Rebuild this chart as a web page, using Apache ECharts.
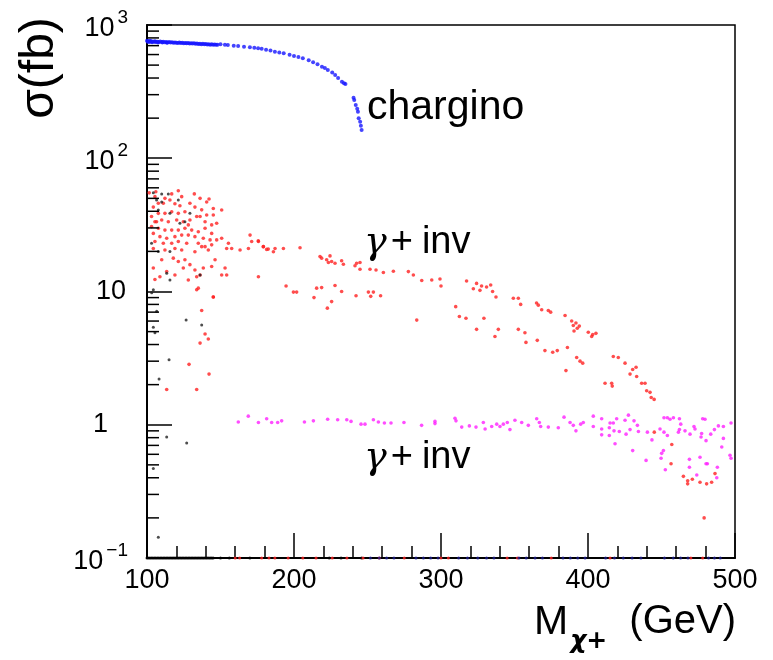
<!DOCTYPE html>
<html>
<head>
<meta charset="utf-8">
<script src="https://cdn.jsdelivr.net/npm/echarts@6/dist/echarts.min.js"></script>
<style>
html,body{margin:0;padding:0;background:#fff;}
#chart{width:773px;height:660px;}
</style>
</head>
<body>
<div id="chart"></div>
<script>
// ---- data (GeV, fb) ----
const chargino = [[100,762],[100.5,748],[101,758],[101.5,745],[102,755],[102.5,760],[103,750],[103.5,742],[104,752],[105,748],[105.5,756],[106,745],[107,750],[107.5,740],[108,746],[109,752],[110,744],[110.5,738],[111,748],[112,742],[113,746],[113.5,736],[114,740],[115,744],[116,738],[117,742],[118,735],[119,740],[120,736],[121,732],[122,738],[123,733],[124,736],[125,730],[126,734],[127,728],[128,732],[129,726],[130,730],[131,725],[132,728],[133,722],[134,726],[135,720],[136,724],[137,718],[138,722],[139,716],[140,720],[141,714],[142,718],[143,712],[144,716],[145,712],[146,714],[147,710],[148,712],[150,716],[153,710],[155,708],[159,700],[162,695],[166,688],[170,680],[173,674],[175.6,669],[178,662],[181,653],[184,645],[187,631],[190,622],[193,613],[197,598],[200,585],[203,575],[206,562],[210,545],[213,525],[216,507],[219,487],[221,475],[223,460],[226,440],[228,422],[230,400],[232.6,375],[234,365],[235,360],[240.5,285],[241,274],[242,251],[243,235],[243.5,223],[244,200],[245,188],[245.5,175],[246,163]];

const gammaInvRed = [[121.3,57],[132.2,54],[142.2,49.5],[136.1,50],[116.8,54],[123.6,51.5],[112.2,50],[105.4,51.5],[107.7,46],[104.3,43],[111.1,46],[115.6,48.6],[119,45.5],[122.4,44],[129.2,46],[132.6,43],[137.2,41],[140.6,37.5],[145.1,37.5],[125.8,39.7],[121.3,38.6],[116.8,39.7],[112.2,38.6],[107.7,38.6],[103.1,36.5],[105.4,33.4],[110,34.4],[114.5,33.4],[120.2,34.4],[124.7,33.4],[129.2,34.4],[133.8,36.5],[139.5,33.4],[144,31.6],[147.4,32.5],[103.1,30.7],[107.7,29.8],[112.2,28.9],[116.8,28.9],[121.3,28.9],[125.8,29.8],[130.4,28.9],[134.9,28.1],[139.5,29.8],[144,27.3],[104.3,27.3],[108.8,25.8],[113.4,25.1],[119,25.8],[123.6,26.5],[128.1,26.5],[132.6,25.8],[138.3,25.1],[142.9,24.4],[147.4,24.4],[150.8,25.1],[105.4,23.7],[111.1,23],[116.8,23],[121.3,23.7],[127,23],[134.9,23],[139.5,21.7],[144,22.4],[155.4,23],[154.2,21],[157.6,21],[163.3,20.5],[169,21],[170.1,26.5],[175.8,23.7],[171.2,23.7],[179.2,21.7],[104.3,21],[112.2,20.5],[119,21],[123.6,20.5],[132.6,19.9],[137.2,21.7],[141.7,20.5],[110,17.3],[117.9,17.8],[121.3,16.8],[125.8,17.3],[129.2,15.9],[124.7,15],[132.6,14.5],[138.3,15],[144,15.4],[146.3,17.3],[153.1,15],[154.2,13.3],[150.8,13.3],[104.3,15],[113.4,14.1],[108.8,12.9],[105.4,12.3],[119,13.3],[128.1,12.2],[133.8,12.9],[136.1,13.3],[175.8,12.9],[134.9,10.6],[145.1,9.1],[106.5,33.4],[128.1,31.6],[150.8,40.9],[145.1,42],[140.6,47],[136.1,36.5],[101.5,55],[106,56],
[133.8,10.3],[145.1,9.1],[137.2,7.2],[139.5,4.8],[141.7,4.4],[136.1,4.1],[128.6,2.84],[142.2,2.4],[113.4,1.84],[133.8,1.84],
[181.4,20.7],[187.1,21],[192.8,21],[204.1,21.3],[175.7,24],[179.1,21.7],[182.5,20.8],[186,19.9],[217.7,18.3],[218.8,17.8],[222.2,17.3],[224.5,18.5],[223.4,16.5],[225.6,16.8],[227.9,16.3],[232.4,17],[233.6,16],[241.5,15.6],[242.6,16.3],[244.9,16.5],[244.9,14.7],[251.7,14.7],[255.8,14.5],[260.8,13.9],[267.6,14.2],[277.8,14.1],[281.2,13.3],[286.9,12.1],[293.7,12.2],[300,11],
[194.6,11],[199.6,9.9],[201.8,9.9],[215.4,10.6],[218.8,10.7],[213.6,9],[227.9,11.1],[232.4,10],[225.6,8.4],[222.7,7.5],[242.2,9.3],[250.6,9.9],[254,9.9],[252.2,9.2],[258.9,9.3],[283.5,6.1],
[299.3,12.4],[317.4,12],[324.2,11.5],[327.6,11],[331,10.8],[322,10.5],[326.5,10.2],[333.8,11.2],[335.1,10],[337.4,9.1],[349.2,8.9],[352.6,8.9],[354.2,8],[365,8.2],[366.2,7.9],[368.5,7.3],[373,7.2],[374.6,7],[384.4,6.6],[388.9,6],[391.8,5.8],[390,5.55],[394.1,5.5],[392.7,5.3],[390.5,5.05],[400.2,4.95],[403.2,4.75],[405.4,4.85],[402.5,4.6],[417.2,3.25],[420.6,3.2],[425.2,2.9],[432.7,2.7],[430.4,2.6],[428.6,2.4],[433.1,2.3],[436.5,2.05],[438.8,2.05],[439.9,1.8],[442.2,1.75],[443,1.6],[445,1.55],
[310,7.7],[312.5,6.5],[317,6.3],[329.2,6.3],[324.2,5.2],[336.7,4.6],[339,5.2],[352.6,5.2],[357.1,4.9],[357.8,4.15],[365.5,4.3],[370.7,3.6],[376,3.5],[379.1,3.6],[386,3.8],[392.3,3.2],[394.6,3],[396.4,2.9],[385,2.55],[411.6,2.05],[416.1,2.05],[416.5,1.95],
[445.1,0.88],[457,0.71],[456.5,0.51],[464.9,0.41],[467.8,0.38],[467.8,0.36],[471,0.39],[476.2,0.37],[480.7,0.36],[484.1,0.37],[479,0.2],[486.4,0.43]];

const gammaInvMagenta = [[162.1,1.05],[168.9,1.16],[175.8,1.04],[181.4,1.11],[184.8,1.04],[188.9,1.04],[191.6,1.07],[207.1,1.05],[213.2,1.07],[222.9,1.1],[229.7,1.09],[235.9,1.09],[238.8,1.06],[245.6,1.01],[248.3,1.01],[254,1.09],[257.4,1.05],[261.5,1.03],[266,1.03],
[274.8,1.04],[286.8,0.99],[295.9,1.06],[295.9,1.02],[309.5,1.12],[310.2,1.07],[314.1,0.96],[319.3,0.98],[323.8,0.96],[328.8,1.04],[330,0.93],[334.5,0.97],[337.9,1.01],[340.1,0.97],[342.4,1.01],[345.1,1.04],[346.9,0.92],[350.3,1.08],[354.9,1.04],[359.4,0.99],[365.1,1.11],[366.9,1.04],[367.8,0.97],[373,0.96],[379.8,0.95],
[383.7,1.14],[387.8,1.04],[390,0.99],[391.8,0.9],[395,1.01],[396.8,1.04],[403.6,1.16],[403.6,0.97],[409.3,1.11],[409.3,0.93],[409.3,0.84],[414.5,0.95],[415,1.03],[417.2,1.03],[417.7,0.9],[419.5,1.11],[421.3,0.89],[414.5,0.83],[418.4,0.72],[425.2,1.08],[427.5,1.18],[425.9,0.85],[428.6,0.92],[431.3,1.07],[433.6,0.99],[434.3,0.89],[430.4,0.64],[439.5,0.54],[440.4,0.88],[443.5,0.77],[449,0.93],[451.7,0.88],[454,0.83],[451.7,1.13],[454,1.13],[458.1,1.13],[455.8,1.1],[462.2,1.11],[463.1,1.01],[462.2,0.92],[461.5,0.88],[466,0.9],[469.4,0.85],[472.1,0.97],[472.8,0.93],[478,1.11],[479.6,1.1],[477.3,0.86],[476.9,0.81],[480.3,0.76],[483.5,0.85],[486,0.92],[488.7,0.98],[492.1,0.97],[492.1,0.79],[491,0.68],[497.3,1.03],[496.6,0.59],[497.3,0.56],[451.3,0.64],[450.1,0.61],[449.7,0.56],[452.6,0.46],[469,0.55],[469,0.48],[476.2,0.57],[480.3,0.51],[481.2,0.51],[488,0.48],[474,0.42],[487.6,0.4]];

const otherBlack = [[104.3,55],[110,54],[114.5,54],[106.5,48.6],[110,47],[121.3,48.6],[107.7,40.9],[115.6,38.6],[129.2,38.6],[122.4,32.5],[125.8,33.4],[103.1,23],[107.7,20],[115.6,20],[113.4,13.7],[115.6,12.2],[136.1,13.3],[104.3,10.3],
[103.2,9.8],[106.6,7.1],[126.6,6.1],[137.2,5.6],[104.3,5.4],[105.4,4.9],[115,3.07],[108.2,2.2],[113.4,0.81],[127,0.73],[104.3,0.47],[107.7,0.143]];

// points on the lower edge of the frame (sigma <= 0.1 fb)
const edgeBlackX = [100,101,102,103,104,105,106,107,108,109,110,111,112,113,114,115,116,117,118,119,120,121,122,123,124,125,126,127,128,129,130,131,132,133,134,135,136,137,138,139,140,141,142,143,144,145,150,156,170,224,232,246];
const edgeRedX = [160,163,178,183,187,196,206,215,226,236,247,258,275,300,305,345,352,375,415,470,478];
const edgeBlueX = [252,258,263,268,283,288,293,298,312,318,325,331,336,353,358,364,369,383,388,393,398,412,418,424,430,436,452,458,463,468,482,486,490];
const edgeValue = 0.1;

// axis structure
const yMinorTicks = [];
for (let d = 0.1; d < 1000; d *= 10) {
  for (let k = 2; k <= 9; k++) yMinorTicks.push(+(k * d).toPrecision(3));
}

const FONT = 'Liberation Sans, Arial, Helvetica, sans-serif';

const chart = echarts.init(document.getElementById('chart'), null, {renderer: 'canvas'});

function yLabel(v) {
  const e = Math.round(Math.log10(v));
  if (e === 0) return '{one|1}';
  if (e === 1) return '{ten|10}';
  return '{b|10}{s|' + (e < 0 ? '\u2212' + (-e) : e) + '}';
}

const dot = (color, size) => ({symbol: 'circle', symbolSize: size, itemStyle: {color: color}});

const gammaRich = {
  g: {font: 'italic 38px DejaVu Serif, serif', fill: '#000', padding: [0, 2, 0, 0]},
  p: {font: '38px ' + FONT, fill: '#000', padding: [0, 9, 0, 2]},
  t: {font: '38px ' + FONT, fill: '#000'}
};

chart.setOption({
  animation: false,
  backgroundColor: '#fff',
  grid: {left: 147, right: 38, top: 25, bottom: 102, show: true, borderColor: '#000', borderWidth: 1.5, backgroundColor: 'transparent'},
  xAxis: {
    type: 'value', min: 100, max: 500, interval: 100,
    axisLine: {show: true, onZero: false, lineStyle: {color: '#000', width: 2}},
    axisTick: {show: true, inside: true, length: 25, lineStyle: {color: '#000', width: 1.5}},
    minorTick: {show: true, splitNumber: 5, length: 12, lineStyle: {color: '#000', width: 1.5}},
    splitLine: {show: false},
    axisLabel: {color: '#000', fontSize: 27, fontFamily: FONT, margin: 9, showMinLabel: true, showMaxLabel: true}
  },
  yAxis: {
    type: 'log', logBase: 10, min: 0.1, max: 1000,
    axisLine: {show: true, lineStyle: {color: '#000', width: 2}},
    axisTick: {show: true, inside: true, length: 25, lineStyle: {color: '#000', width: 1.5}},
    minorTick: {show: false},
    splitLine: {show: false},
    axisLabel: {
      color: '#000', margin: 19, showMinLabel: true, showMaxLabel: true,
      formatter: yLabel,
      rich: {
        b: {fontSize: 27, fontFamily: FONT, color: '#000', lineHeight: 34, verticalAlign: 'bottom'},
        s: {fontSize: 19, fontFamily: FONT, color: '#000', lineHeight: 19, verticalAlign: 'top', padding: [0, 0, 0, 3]},
        one: {fontSize: 27, fontFamily: FONT, color: '#000', padding: [0, 20, 0, 0]},
        ten: {fontSize: 27, fontFamily: FONT, color: '#000', padding: [0, 2, 0, 0]}
      }
    }
  },
  series: [
    Object.assign({type: 'scatter', name: 'chargino', data: chargino}, dot('#1515ff', 4)),
    Object.assign({type: 'scatter', name: 'gamma+inv (red)', data: gammaInvRed}, dot('#ff2020', 3.6)),
    Object.assign({type: 'scatter', name: 'gamma+inv (magenta)', data: gammaInvMagenta}, dot('#ff20ff', 3.6)),
    Object.assign({type: 'scatter', name: 'other', data: otherBlack}, dot('#202020', 3)),
    Object.assign({type: 'scatter', name: 'edge black', data: edgeBlackX.map(x => [x, edgeValue]), clip: false}, dot('#000', 3)),
    Object.assign({type: 'scatter', name: 'edge red', data: edgeRedX.map(x => [x, edgeValue]), clip: false}, dot('#ff2020', 3)),
    Object.assign({type: 'scatter', name: 'edge blue', data: edgeBlueX.map(x => [x, edgeValue]), clip: false}, dot('#1a1a8a', 3)),
    {
      type: 'custom', name: 'yMinor', silent: true, clip: false, z: 5,
      data: yMinorTicks.map(v => [100, v]),
      encode: {x: 0, y: 1},
      renderItem: function (params, api) {
        const p = api.coord([100, api.value(1)]);
        return {type: 'line', shape: {x1: p[0], y1: p[1], x2: p[0] + 12, y2: p[1]}, style: {stroke: '#000', lineWidth: 1.5}};
      }
    }
  ],
  graphic: [
    {type: 'text', x: 40, y: 68, rotation: Math.PI / 2, style: {text: '\u03c3(fb)', font: '48px ' + FONT, fill: '#000', textAlign: 'center', textVerticalAlign: 'middle'}},
    {type: 'text', x: 736, y: 628, style: {text: '{m|M}{c|\u03c7+}{t|(GeV)}', textAlign: 'right', textVerticalAlign: 'middle',
      rich: {m: {font: '41px ' + FONT, fill: '#000', verticalAlign: 'top', lineHeight: 42},
             c: {font: 'italic bold 25px DejaVu Sans, sans-serif', fill: '#000', verticalAlign: 'bottom', lineHeight: 52, padding: [0, 22, 0, 2]},
             t: {font: '40px ' + FONT, fill: '#000', verticalAlign: 'top', lineHeight: 42}}}},
    {type: 'text', x: 367, y: 108, style: {text: 'chargino', font: '41px ' + FONT, fill: '#000', textAlign: 'left', textVerticalAlign: 'middle'}},
    {type: 'text', x: 364, y: 243, style: {text: '{g|\u03b3}{p|+}{t|inv}', textAlign: 'left', textVerticalAlign: 'middle', rich: gammaRich}},
    {type: 'text', x: 364, y: 458, style: {text: '{g|\u03b3}{p|+}{t|inv}', textAlign: 'left', textVerticalAlign: 'middle', rich: gammaRich}}
  ]
});
</script>
</body>
</html>
